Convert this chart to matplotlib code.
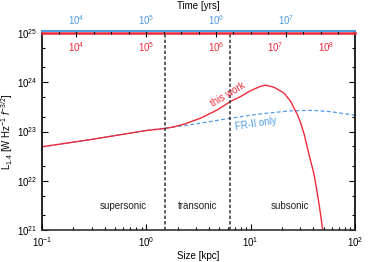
import matplotlib
matplotlib.use("Agg")
import matplotlib.pyplot as plt
import numpy as np

plt.rcParams['font.family'] = ['Liberation Sans', 'DejaVu Sans']
plt.rcParams['font.size'] = 7
plt.rcParams['mathtext.fontset'] = 'custom'
plt.rcParams['mathtext.rm'] = 'Liberation Sans'
plt.rcParams['mathtext.it'] = 'Liberation Sans:italic'

# red curve: this work (size in kpc, log10 luminosity)
size_work = [0.1, 0.3, 1.0, 1.5, 1.8, 2.3, 3.3, 4.8, 6.4, 8.0, 10, 12.5,
             13.9, 16.7, 20.9, 24.2, 26.1, 28.1, 30.2, 32.5, 36.4, 40.6,
             43.8, 46.4, 49]
logL_work = [22.69, 22.84, 23.02, 23.06, 23.09, 23.15, 23.27, 23.44, 23.61,
             23.71, 23.83, 23.92, 23.94, 23.90, 23.78, 23.61, 23.47, 23.34,
             23.17, 22.95, 22.52, 22.12, 21.71, 21.37, 21.0]

# blue dashed: FR-II only
size_fr2 = [0.1, 0.3, 1.0, 1.5, 2.3, 3.3, 6.4, 10, 14, 24, 40, 60, 100]
logL_fr2 = [22.69, 22.84, 23.02, 23.07, 23.12, 23.17, 23.27, 23.33, 23.37,
            23.42, 23.43, 23.40, 23.33]

# regime boundaries (kpc)
boundaries = [1.52, 6.3]
regimes = ["supersonic", "transonic", "subsonic"]
regime_x = [0.6, 3.1, 24]

# red time labels placed at the matching source sizes
red_time_exp = [4, 5, 6, 7, 8]
red_time_size = [0.212, 1.0, 4.71, 17.0, 52.6]

# blue time axis (pure FR-II)
blue_time_exp = [4, 5, 6, 7]
blue_tlim = (10**3.514, 10**7.986)

red = '#ee2a3a'
blue = '#4f9ae6'

fig = plt.figure(figsize=(3.74, 2.62), dpi=100)
ax = fig.add_axes([0.1123, 0.1221, 0.8369, 0.7519])

ax.plot(size_fr2, 10**np.array(logL_fr2), color=blue, lw=0.9, ls=(0, (3, 2)))
ax.plot(size_work, 10**np.array(logL_work), color=red, lw=1.0)

for b in boundaries:
    ax.axvline(b, color='#333333', lw=1.1, ls=(0, (2.2, 1.4)))

ax.set_xscale('log')
ax.set_yscale('log')
ax.set_xlim(0.1, 100)
ax.set_ylim(1e21, 1e25)
ax.set_yticks([1e21, 1e22, 1e23, 1e24, 1e25])
ax.yaxis.set_minor_locator(matplotlib.ticker.LogLocator(base=10, subs=[2, 5]))
ax.tick_params(which='both', direction='in', right=True, top=False)
ax.tick_params(which='major', length=4, width=0.8)
ax.tick_params(which='minor', length=2, width=0.8)
ax.set_xlabel("Size [kpc]", labelpad=2)
ax.set_ylabel(r"L$_{1.4}$ [W Hz$^{-1}$ $f^{-3/2}$]", labelpad=1)

for s in ['left', 'bottom', 'right']:
    ax.spines[s].set_linewidth(1.2)
ax.spines['bottom'].set_color('#333333')
ax.spines['top'].set_color(red)
ax.spines['top'].set_linewidth(1.8)

for name, xr in zip(regimes, regime_x):
    ax.text(xr, 0.12, name, transform=ax.get_xaxis_transform(),
            ha='center', va='center', color='#222222')

ax.text(6.0, 10**23.76, "this work", color=red, rotation=31,
        ha='center', va='center')
ax.text(11.3, 10**23.15, "FR-II only", color=blue, rotation=9,
        ha='center', va='center')

for e, s in zip(red_time_exp, red_time_size):
    ax.text(s, 0.93, r"10$^{%d}$" % e, transform=ax.get_xaxis_transform(),
            ha='center', va='center', color=red)

# top time axis
tax = ax.twiny()
tax.set_xscale('log')
tax.set_xlim(*blue_tlim)
tax.set_xticks([10.0**e for e in blue_time_exp])
tax.set_xticklabels([r"10$^{%d}$" % e for e in blue_time_exp])
minor = [10.0**(e + f) for e in range(3, 8) for f in (0.25, 0.5, 0.75)]
tax.xaxis.set_minor_locator(matplotlib.ticker.FixedLocator(minor))
tax.xaxis.set_minor_formatter(matplotlib.ticker.NullFormatter())
tax.tick_params(which='both', direction='in', pad=3, labelcolor=blue)
tax.tick_params(which='major', length=4, width=0.8)
tax.tick_params(which='minor', length=2, width=0.8)
tax.spines['top'].set_color(blue)
tax.spines['top'].set_linewidth(1.5)
tax.spines['top'].set_position(('outward', 1.3))
for s in ['left', 'bottom', 'right']:
    tax.spines[s].set_visible(False)
tax.set_xlabel("Time [yrs]", labelpad=3)

fig.savefig("out.png", dpi=100)
